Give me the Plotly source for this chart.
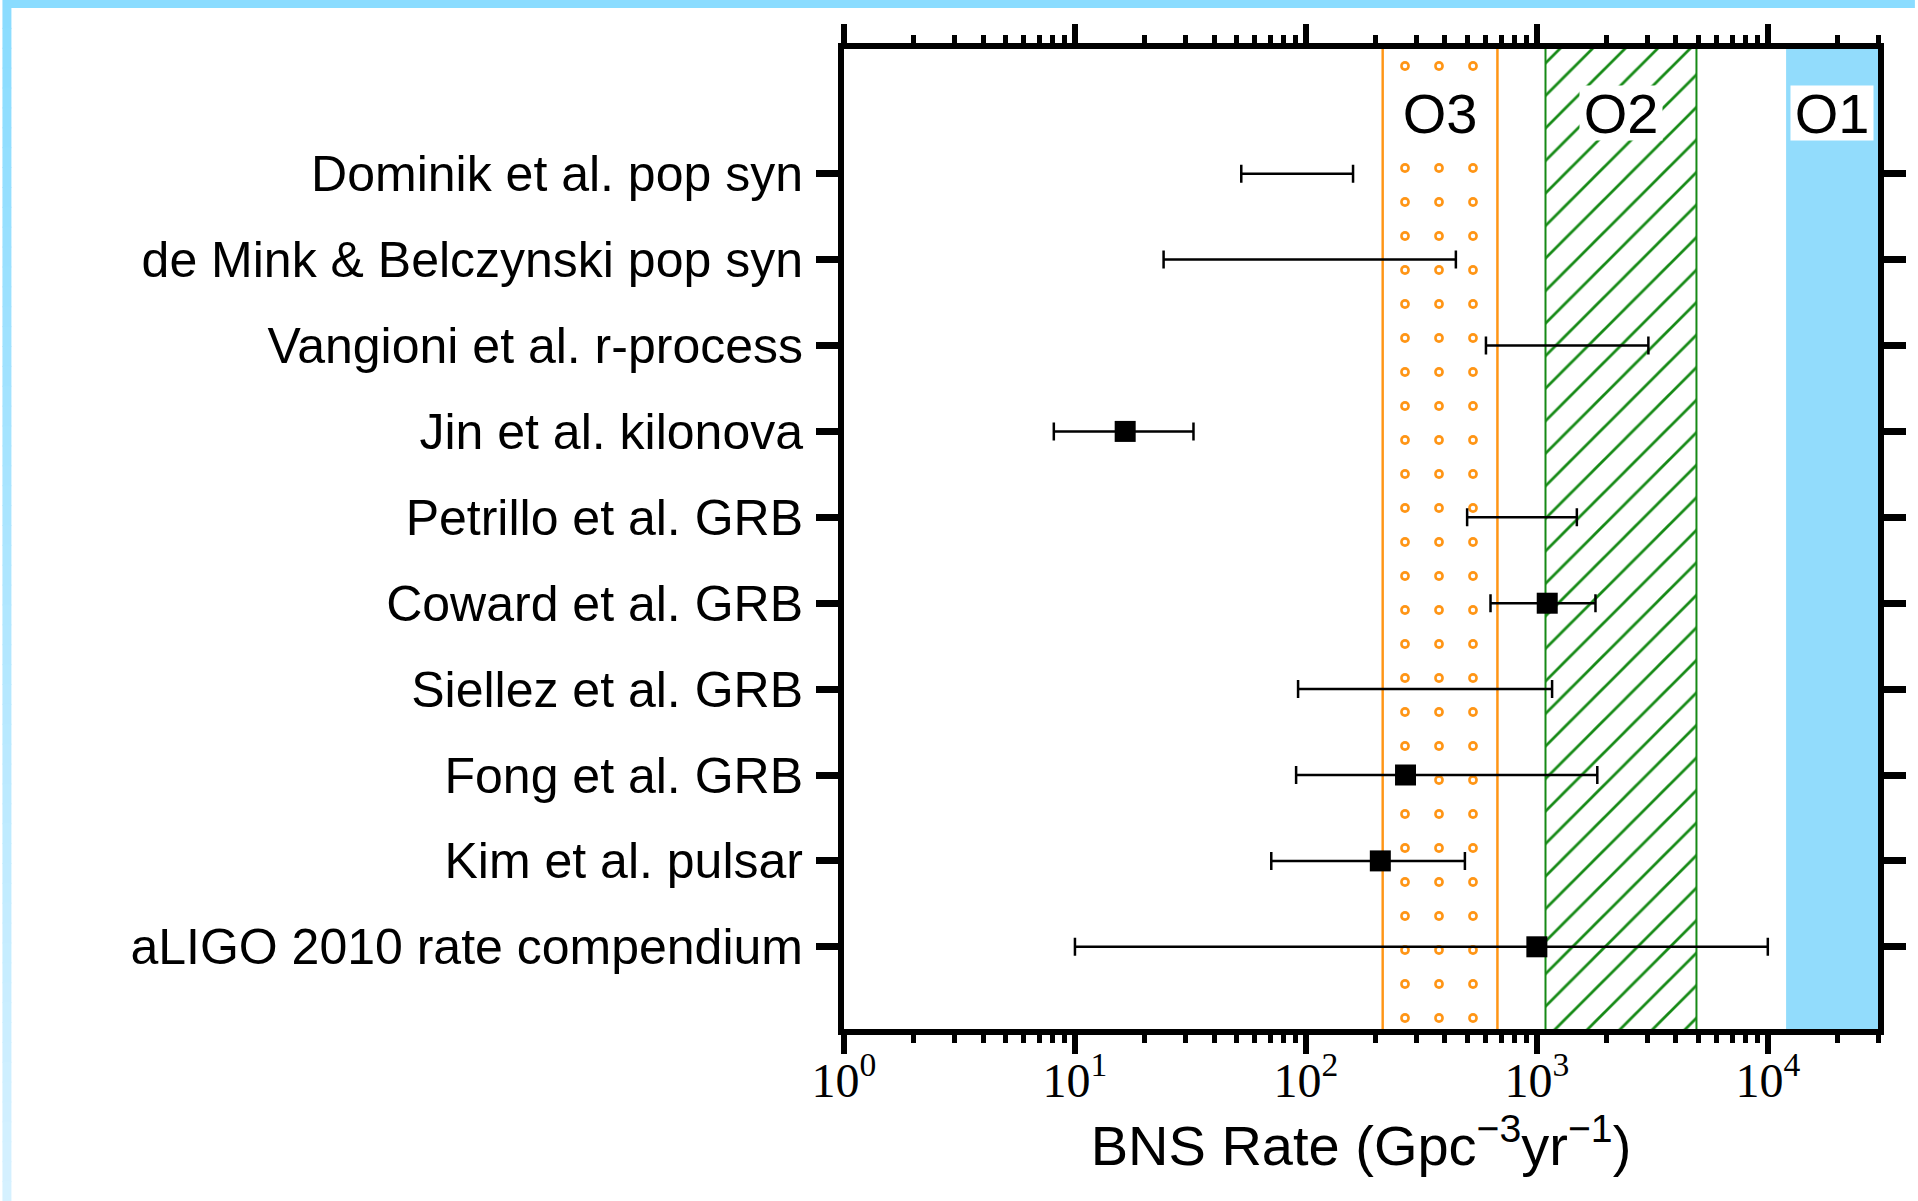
import math
import plotly.graph_objects as go

# ---------------- data ----------------
labels = [
    "Dominik et al. pop syn",
    "de Mink & Belczynski pop syn",
    "Vangioni et al. r-process",
    "Jin et al. kilonova",
    "Petrillo et al. GRB",
    "Coward et al. GRB",
    "Siellez et al. GRB",
    "Fong et al. GRB",
    "Kim et al. pulsar",
    "aLIGO 2010 rate compendium",
]
rate_low = [52.5, 24.2, 602, 8.1, 499, 630, 92.5, 90.7, 70.8, 10]
rate_high = [160, 446, 3040, 32.6, 1490, 1794, 1164, 1827, 488, 10000]
rate_central = [None, None, None, 16.5, None, 1109, None, 270, 210, 1000]

run_names = ["O3", "O2", "O1"]
run_low = [215, 1090, 12000]
run_high = [675, 4910, 30000]

x_tick_vals = [1, 10, 100, 1000, 10000]
x_tick_text = ["10<sup>0</sup>", "10<sup>1</sup>", "10<sup>2</sup>", "10<sup>3</sup>", "10<sup>4</sup>"]
x_minor_vals = [m * 10 ** k for k in range(0, 5) for m in range(2, 10) if m * 10 ** k <= 30000]

x_title = "BNS Rate (Gpc<sup>−3</sup>yr<sup>−1</sup>)"

# ---------------- layout constants ----------------
W, H = 1918, 1201
ML, MR, MT, MB = 844, 37, 49, 172
X_RANGE = [0, math.log10(30000)]
Y_RANGE = [-0.957, 10.452]

n = len(labels)
ypos = [n - 1 - i for i in range(n)]

ORANGE = "#ff9515"
GREEN = "#168a16"
O1BLUE = "#92dcfc"

fig = go.Figure()

YB, YT = -5, 20  # vertical extent of the observing-run bands (clipped)

# O3 band: orange ring pattern (orange dots overlaid by white smaller dots)
lo, hi = run_low[0], run_high[0]
fig.add_trace(go.Scatter(
    x=[lo, hi, hi, lo, lo], y=[YB, YB, YT, YT, YB], mode="lines", fill="toself",
    fillcolor="rgba(0,0,0,0)",
    fillpattern=dict(shape=".", fgcolor=ORANGE, fgopacity=1, bgcolor="rgba(0,0,0,0)",
                     size=34, solidity=0.065),
    line=dict(color=ORANGE, width=2), hoverinfo="skip", showlegend=False))
fig.add_trace(go.Scatter(
    x=[lo, hi, hi, lo, lo], y=[YB, YB, YT, YT, YB], mode="lines", fill="toself",
    fillcolor="rgba(0,0,0,0)",
    fillpattern=dict(shape=".", fgcolor="white", fgopacity=1, bgcolor="rgba(0,0,0,0)",
                     size=34, solidity=0.014),
    line=dict(color=ORANGE, width=2), hoverinfo="skip", showlegend=False))

# O2 band: green hatch
lo, hi = run_low[1], run_high[1]
fig.add_trace(go.Scatter(
    x=[lo, hi, hi, lo, lo], y=[YB, YB, YT, YT, YB], mode="lines", fill="toself",
    fillcolor="rgba(0,0,0,0)",
    fillpattern=dict(shape="/", fgcolor=GREEN, fgopacity=1, bgcolor="rgba(0,0,0,0)",
                     size=23, solidity=0.12),
    line=dict(color=GREEN, width=2), hoverinfo="skip", showlegend=False))

# O1 band: solid light blue
lo, hi = run_low[2], run_high[2]
fig.add_trace(go.Scatter(
    x=[lo, hi, hi, lo, lo], y=[YB, YB, YT, YT, YB], mode="lines", fill="toself",
    fillcolor=O1BLUE, line=dict(color=O1BLUE, width=0), hoverinfo="skip", showlegend=False))

# Error bars (from low to high)
fig.add_trace(go.Scatter(
    x=rate_low, y=ypos, mode="markers",
    marker=dict(size=2, color="black", opacity=0),
    error_x=dict(type="data", symmetric=False,
                 array=[h - l for l, h in zip(rate_low, rate_high)],
                 arrayminus=[0] * n, color="black", thickness=2.5, width=9),
    hoverinfo="skip", showlegend=False))

# Central values
cx = [c for c in rate_central if c is not None]
cy = [y for c, y in zip(rate_central, ypos) if c is not None]
fig.add_trace(go.Scatter(
    x=cx, y=cy, mode="markers",
    marker=dict(symbol="square", size=21, color="black", line=dict(width=0)),
    showlegend=False))

# Run labels
for name, lo, hi in zip(run_names, run_low, run_high):
    fig.add_annotation(
        x=(math.log10(lo) + math.log10(hi)) / 2, y=9.71, xref="x", yref="y",
        text=name, showarrow=False, bgcolor="white", borderpad=0,
        width=82, height=54,
        font=dict(family="Liberation Sans, Arial, sans-serif", size=56, color="black"))

# Decorative page frame (top bar + left gradient stripe)
def px_to_paper_x(px):
    return (px - ML) / (W - ML - MR)

def py_to_paper_y(py):
    return (H - MB - py) / (H - MT - MB)

shapes = []
shapes.append(dict(type="rect", xref="paper", yref="paper",
                   x0=px_to_paper_x(0), x1=px_to_paper_x(W), y0=py_to_paper_y(8), y1=py_to_paper_y(0),
                   fillcolor="#8adcff", line=dict(width=0), layer="above"))
NS = 60
c0 = (138, 220, 255)
c1 = (214, 241, 255)
for i in range(NS):
    t0 = 8 + (H - 8) * i / NS
    t1 = 8 + (H - 8) * (i + 1) / NS + 1
    f = (i + 0.5) / NS
    col = "rgb(%d,%d,%d)" % tuple(round(a + (b - a) * f) for a, b in zip(c0, c1))
    shapes.append(dict(type="rect", xref="paper", yref="paper",
                       x0=px_to_paper_x(0), x1=px_to_paper_x(9),
                       y0=py_to_paper_y(min(t1, H)), y1=py_to_paper_y(t0),
                       fillcolor=col, line=dict(width=0), layer="above"))

fig.update_layout(
    width=W, height=H,
    margin=dict(l=ML, r=MR, t=MT, b=MB, pad=0),
    paper_bgcolor="white", plot_bgcolor="white",
    showlegend=False,
    shapes=shapes,
    xaxis=dict(
        type="log", range=X_RANGE,
        tickmode="array", tickvals=x_tick_vals, ticktext=x_tick_text,
        ticks="outside", ticklen=19, tickwidth=6, tickcolor="black",
        showline=True, linewidth=6, linecolor="black", mirror="ticks",
        showgrid=False, zeroline=False, ticklabelstandoff=-15,
        tickfont=dict(family="Liberation Serif, Times New Roman, serif", size=48, color="black"),
        minor=dict(tickmode="array", tickvals=x_minor_vals, ticks="outside",
                   ticklen=8, tickwidth=5, tickcolor="black", showgrid=False),
        title=dict(text=x_title, standoff=4,
                   font=dict(family="Liberation Sans, Arial, sans-serif", size=56, color="black")),
    ),
    yaxis=dict(
        range=Y_RANGE,
        tickmode="array", tickvals=ypos, ticktext=labels,
        ticks="outside", ticklen=22, tickwidth=7, tickcolor="black",
        showline=True, linewidth=6, linecolor="black", mirror="ticks",
        showgrid=False, zeroline=False, ticklabelstandoff=3,
        tickfont=dict(family="Liberation Sans, Arial, sans-serif", size=50, color="black"),
    ),
)

fig.write_html("out.html")
